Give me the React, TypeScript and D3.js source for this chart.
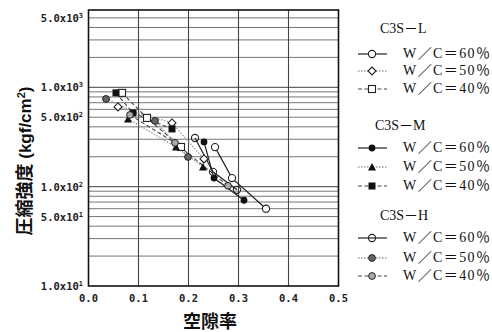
import * as d3 from "d3";

// porosity (x) vs compressive strength kgf/cm2 (y)
const L60: [number, number][] = [[0.253, 250], [0.287, 122], [0.355, 60]];
const L50: [number, number][] = [[0.059, 635], [0.167, 438], [0.231, 190]];
const L40: [number, number][] = [[0.067, 879], [0.117, 492], [0.185, 251]];
const M60: [number, number][] = [[0.231, 282], [0.251, 122], [0.311, 73]];
const M50: [number, number][] = [[0.079, 481], [0.175, 251], [0.229, 158]];
const M40: [number, number][] = [[0.055, 879], [0.089, 552], [0.167, 381]];
const H60: [number, number][] = [[0.213, 309], [0.249, 141], [0.297, 93]];
const H50: [number, number][] = [[0.035, 764], [0.133, 459], [0.199, 199]];
const H40: [number, number][] = [[0.083, 527], [0.173, 276], [0.279, 102]];

const GROUPS = ["C3S－L", "C3S－M", "C3S－H"];
const WC = ["W／C＝60％", "W／C＝50％", "W／C＝40％"];
const X_TICKS = [0, 0.1, 0.2, 0.3, 0.4, 0.5];
const Y_TICKS: [number, string, string][] = [
  [5000, "5.0x10", "3"], [1000, "1.0x10", "3"], [500, "5.0x10", "2"],
  [100, "1.0x10", "2"], [50, "5.0x10", "1"], [10, "1.0x10", "1"],
];

type Mk = "oc" | "od" | "os" | "fc" | "ft" | "fs" | "hc1" | "hc2" | "hc3";
const SERIES: { g: number; w: number; data: [number, number][]; mk: Mk }[] = [
  { g: 0, w: 0, data: L60, mk: "oc" }, { g: 0, w: 1, data: L50, mk: "od" }, { g: 0, w: 2, data: L40, mk: "os" },
  { g: 1, w: 0, data: M60, mk: "fc" }, { g: 1, w: 1, data: M50, mk: "ft" }, { g: 1, w: 2, data: M40, mk: "fs" },
  { g: 2, w: 0, data: H60, mk: "hc1" }, { g: 2, w: 1, data: H50, mk: "hc2" }, { g: 2, w: 2, data: H40, mk: "hc3" },
];

const lineStyle = (w: number) =>
  w === 0 ? { stroke: "#222", dash: undefined, sw: 1.2 }
  : w === 1 ? { stroke: "#999", dash: "1.5,1.5", sw: 1.3 }
  : { stroke: "#444", dash: "4,2.5", sw: 1.1 };

function Marker({ mk, x, y }: { mk: Mk; x: number; y: number }) {
  const s = "#222";
  switch (mk) {
    case "oc": return <circle cx={x} cy={y} r={3.6} fill="white" stroke={s} strokeWidth={1.1} />;
    case "od": return <path d={`M${x},${y - 4}L${x + 4},${y}L${x},${y + 4}L${x - 4},${y}Z`} fill="white" stroke={s} strokeWidth={1.1} />;
    case "os": return <rect x={x - 3.5} y={y - 3.5} width={7} height={7} fill="white" stroke={s} strokeWidth={1.1} />;
    case "fc": return <circle cx={x} cy={y} r={3.4} fill="#111" />;
    case "ft": return <path d={`M${x},${y - 4}L${x + 4},${y + 3.5}L${x - 4},${y + 3.5}Z`} fill="#111" />;
    case "fs": return <rect x={x - 3.5} y={y - 3.5} width={7} height={7} fill="#111" />;
    case "hc1": return <circle cx={x} cy={y} r={3.6} fill="none" stroke={s} strokeWidth={1.1} />;
    case "hc2": return <circle cx={x} cy={y} r={3.4} fill="#666" stroke={s} strokeWidth={1} />;
    default: return <circle cx={x} cy={y} r={3.4} fill="#aaa" stroke={s} strokeWidth={1} />;
  }
}

export default function App() {
  const W = 492, H = 332;
  const x = d3.scaleLinear().domain([0, 0.5]).range([88.5, 338.5]);
  const y = d3.scaleLog().domain([10, 6000]).range([286, 10]);
  const line = d3.line<[number, number]>().x(d => x(d[0])).y(d => y(d[1]));

  const minor: number[] = [];
  for (const dec of [10, 100, 1000]) for (let k = 1; k <= 9; k++) { const v = k * dec; if (v > 10 && v < 6000) minor.push(v); }

  const mono = "'DejaVu Sans Mono', 'Liberation Mono', monospace";
  const serif = "'Liberation Serif', 'DejaVu Serif', 'Noto Sans CJK JP', serif";
  const titleY = [33, 130, 220];
  const titleX = [380, 375, 380];
  const rowY = [[58, 75, 93], [152, 171, 190], [242, 262, 280]];

  return (
    <svg width={W} height={H} style={{ display: "block", background: "white" }}>
      <style>{`body{margin:0}`}</style>
      {/* grid */}
      {minor.map(v => (
        <line key={"h" + v} x1={x(0)} x2={x(0.5)} y1={y(v)} y2={y(v)} stroke="#666" strokeWidth={v === 100 || v === 1000 ? 1.2 : 0.9} />
      ))}
      {X_TICKS.slice(1, -1).map(t => (
        <line key={"v" + t} x1={x(t)} x2={x(t)} y1={y(6000)} y2={y(10)} stroke="#444" strokeWidth={1.1} />
      ))}
      <rect x={x(0)} y={y(6000)} width={x(0.5) - x(0)} height={y(10) - y(6000)} fill="none" stroke="#111" strokeWidth={1.6} />

      {/* ticks */}
      {Y_TICKS.map(([v, a, e]) => (
        <text key={v} x={83} y={y(v) + 4} textAnchor="end" fontFamily={mono} fontWeight="bold" fontSize={10.5} fill="#222">
          {a}<tspan dy={-4} fontSize={7}>{e}</tspan>
        </text>
      ))}
      {X_TICKS.map(t => (
        <text key={t} x={x(t)} y={302} textAnchor="middle" fontFamily={mono} fontWeight="bold" fontSize={10.5} fill="#222">{t.toFixed(1)}</text>
      ))}

      {/* axis titles */}
      <text x={210} y={328} textAnchor="middle" fontFamily="'Noto Sans CJK JP', sans-serif" fontWeight="bold" fontSize={18} fill="#111">空隙率</text>
      <text transform="translate(31,161) rotate(-90)" textAnchor="middle" fontFamily="'Liberation Sans', 'Noto Sans CJK JP', sans-serif" fontWeight="bold" fontSize={17} fill="#111">
        <tspan fontFamily="'Noto Sans CJK JP', sans-serif" fontSize={18}>圧縮強度</tspan> (kgf/cm<tspan dy={-6} fontSize={11}>2</tspan><tspan dy={6}>)</tspan>
      </text>

      {/* series */}
      {SERIES.map((s, i) => {
        const st = lineStyle(s.w);
        return <path key={"l" + i} d={line(s.data) ?? ""} fill="none" stroke={st.stroke} strokeWidth={st.sw} strokeDasharray={st.dash} />;
      })}
      {SERIES.map((s, i) => s.data.map((d, j) => <Marker key={"m" + i + "-" + j} mk={s.mk} x={x(d[0])} y={y(d[1])} />))}

      {/* legend */}
      {GROUPS.map((g, gi) => (
        <g key={g}>
          <text x={titleX[gi]} y={titleY[gi]} fontFamily={serif} fontSize={14} fill="#111">{g}</text>
          {WC.map((w, wi) => {
            const s = SERIES[gi * 3 + wi];
            const st = lineStyle(wi);
            const ly = rowY[gi][wi] - 4;
            return (
              <g key={w}>
                <line x1={358} x2={387} y1={ly} y2={ly} stroke={st.stroke} strokeWidth={st.sw} strokeDasharray={st.dash} />
                <Marker mk={s.mk} x={372} y={ly} />
                <text x={403} y={rowY[gi][wi]} fontFamily={serif} fontSize={14} fill="#111" textLength={87} lengthAdjust="spacing">{w}</text>
              </g>
            );
          })}
        </g>
      ))}
    </svg>
  );
}
